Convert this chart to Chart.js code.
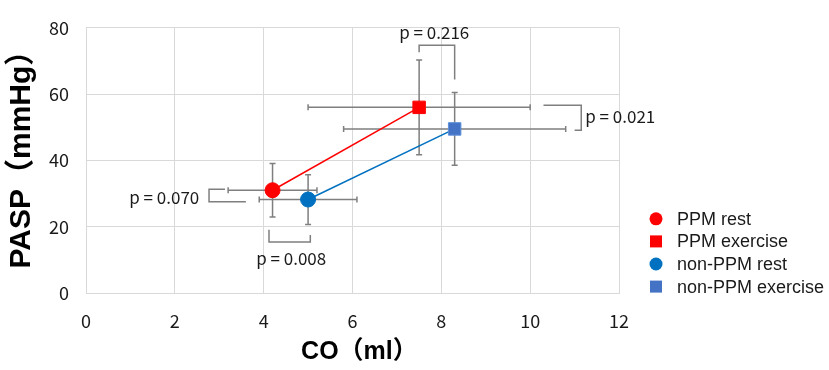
<!DOCTYPE html>
<html>
<head>
<meta charset="utf-8">
<script src="https://cdn.jsdelivr.net/npm/chart.js@4.4.1/dist/chart.umd.min.js"></script>
<style>
  html, body { margin: 0; padding: 0; background: #fff; }
  #wrap { width: 829px; height: 370px; position: relative; }
</style>
</head>
<body>
<div id="wrap"><canvas id="chart"></canvas></div>
<script>
// Valeurs : CO (ml) et PASP (mmHg), moyenne ± écart
const groups = ['PPM', 'non-PPM'];
const legendLabels = ['PPM rest', 'PPM exercise', 'non-PPM rest', 'non-PPM exercise'];

const coRest = [4.2, 5.0];
const coExercise = [7.5, 8.3];
const paspRest = [31.0, 28.2];
const paspExercise = [56.0, 49.5];

const coRestErr = [1.0, 1.1];
const coExerciseErr = [2.5, 2.5];
const paspRestErr = [8.1, 7.5];
const paspExerciseErr = [14.3, 11.0];

const xTicks = [0, 2, 4, 6, 8, 10, 12];
const yTicks = [0, 20, 40, 60, 80];

// p-values et crochets (en unités des axes)
const pLabels = ['p = 0.216', 'p = 0.021', 'p = 0.070', 'p = 0.008'];
const pLabelPos = [[7.84, 78.7], [11.24, 53.1], [2.55, 28.9], [4.62, 10.5]];
const pLabelAlign = ['center', 'left', 'right', 'center'];
const pBrackets = [
    [[7.5, 72.6], [7.5, 74.7], [8.3, 74.7], [8.3, 64.4]],
    [[10.3, 56.6], [11.15, 56.6], [11.15, 49.1], [11.0, 49.1]],
    [[3.13, 31.3], [2.77, 31.3], [2.77, 27.5], [3.6, 27.5]],
    [[4.12, 19.1], [4.12, 15.4], [5.05, 15.4], [5.05, 17.5]]
];

const red = '#FF0000';
const blueLine = '#0070C0';
const blueSquare = '#4472C4';
const errColor = '#7F7F7F';
const gridColor = '#D9D9D9';
const textColor = '#1A1A1A';
const numFont = "'Noto Sans CJK JP', 'Noto Sans', sans-serif";
const latinFont = "'Liberation Sans', Arial, 'Noto Sans CJK JP', sans-serif";

const fillColors = [[red, red], [blueLine, blueSquare]];
const borderColors = [[red, red], [blueLine, '#5B8FD9']];
const lineColors = [red, blueLine];

const datasets = groups.map((g, i) => ({
    label: g,
    data: [
        { x: coRest[i], y: paspRest[i], xe: coRestErr[i], ye: paspRestErr[i] },
        { x: coExercise[i], y: paspExercise[i], xe: coExerciseErr[i], ye: paspExerciseErr[i] }
    ],
    showLine: true,
    borderColor: lineColors[i],
    borderWidth: 1.5,
    pointStyle: ['circle', 'rect'],
    pointRadius: [7.5, 8.8],
    pointHoverRadius: [7.5, 8.8],
    pointBackgroundColor: fillColors[i],
    pointBorderColor: borderColors[i],
    pointBorderWidth: 1
}));

// barres d'erreur sous les points
const errorBars = {
    id: 'errorBars',
    beforeDatasetsDraw(chart) {
        const { ctx, scales: { x, y } } = chart;
        const cap = 3;
        ctx.save();
        ctx.strokeStyle = errColor;
        ctx.lineWidth = 1.5;
        chart.data.datasets.forEach(ds => {
            ds.data.forEach(p => {
                const px = x.getPixelForValue(p.x);
                const py = y.getPixelForValue(p.y);
                const x1 = x.getPixelForValue(p.x - p.xe);
                const x2 = x.getPixelForValue(p.x + p.xe);
                const y1 = y.getPixelForValue(p.y + p.ye);
                const y2 = y.getPixelForValue(p.y - p.ye);
                ctx.beginPath();
                ctx.moveTo(x1, py); ctx.lineTo(x2, py);
                ctx.moveTo(x1, py - cap); ctx.lineTo(x1, py + cap);
                ctx.moveTo(x2, py - cap); ctx.lineTo(x2, py + cap);
                ctx.moveTo(px, y1); ctx.lineTo(px, y2);
                ctx.moveTo(px - cap, y1); ctx.lineTo(px + cap, y1);
                ctx.moveTo(px - cap, y2); ctx.lineTo(px + cap, y2);
                ctx.stroke();
            });
        });
        ctx.restore();
    }
};

// crochets + p-values, légende
const annotations = {
    id: 'annotations',
    afterDatasetsDraw(chart) {
        const { ctx, chartArea, scales: { x, y } } = chart;
        ctx.save();
        ctx.strokeStyle = errColor;
        ctx.lineWidth = 1.5;
        pBrackets.forEach(br => {
            ctx.beginPath();
            br.forEach((pt, k) => {
                const px = x.getPixelForValue(pt[0]);
                const py = y.getPixelForValue(pt[1]);
                if (k === 0) ctx.moveTo(px, py); else ctx.lineTo(px, py);
            });
            ctx.stroke();
        });
        ctx.fillStyle = textColor;
        ctx.font = '17px ' + numFont;
        ctx.textBaseline = 'middle';
        pLabels.forEach((t, k) => {
            ctx.textAlign = pLabelAlign[k];
            ctx.fillText(t, x.getPixelForValue(pLabelPos[k][0]), y.getPixelForValue(pLabelPos[k][1]));
        });

        // légende
        const lx = chartArea.right + 37;
        const ly = chartArea.top + 191;
        const step = 22.6;
        ctx.font = '18px ' + latinFont;
        ctx.textAlign = 'left';
        legendLabels.forEach((t, k) => {
            const g = Math.floor(k / 2);
            const s = k % 2;
            const cy = ly + k * step;
            ctx.fillStyle = fillColors[g][s];
            if (s === 0) {
                ctx.beginPath();
                ctx.arc(lx, cy, 6.5, 0, Math.PI * 2);
                ctx.fill();
            } else {
                ctx.fillRect(lx - 6, cy - 6, 12, 12);
            }
            ctx.fillStyle = textColor;
            ctx.fillText(t, lx + 21, cy + 1);
        });
        ctx.restore();
    }
};

new Chart(document.getElementById('chart'), {
    type: 'scatter',
    data: { datasets },
    options: {
        responsive: true,
        maintainAspectRatio: false,
        animation: false,
        layout: { padding: { top: 13, right: 210, left: 0, bottom: 0 } },
        plugins: {
            legend: { display: false },
            tooltip: { enabled: false }
        },
        scales: {
            x: {
                type: 'linear',
                min: 0,
                max: 12,
                afterBuildTicks: s => { s.ticks = xTicks.map(v => ({ value: v })); },
                afterFit: s => { s.height = 77; },
                grid: { color: gridColor, lineWidth: 1, drawTicks: false },
                border: { color: gridColor },
                ticks: { color: textColor, padding: 17, font: { family: numFont, size: 18 } },
                title: {
                    display: true,
                    text: '  CO（ml）',
                    color: '#000',
                    padding: { top: 0, bottom: 3 },
                    font: { family: latinFont, size: 25, weight: 'bold' }
                }
            },
            y: {
                type: 'linear',
                min: 0,
                max: 80,
                afterBuildTicks: s => { s.ticks = yTicks.map(v => ({ value: v })); },
                afterFit: s => { s.width = 86; },
                grid: { color: gridColor, lineWidth: 1, drawTicks: false },
                border: { color: gridColor },
                ticks: { color: textColor, padding: 17, font: { family: numFont, size: 18 } },
                title: {
                    display: true,
                    text: '  PASP（mmHg）',
                    color: '#000',
                    padding: { top: 4, bottom: 0 },
                    font: { family: latinFont, size: 30, weight: 'bold' }
                }
            }
        }
    },
    plugins: [errorBars, annotations]
});
</script>
</body>
</html>
